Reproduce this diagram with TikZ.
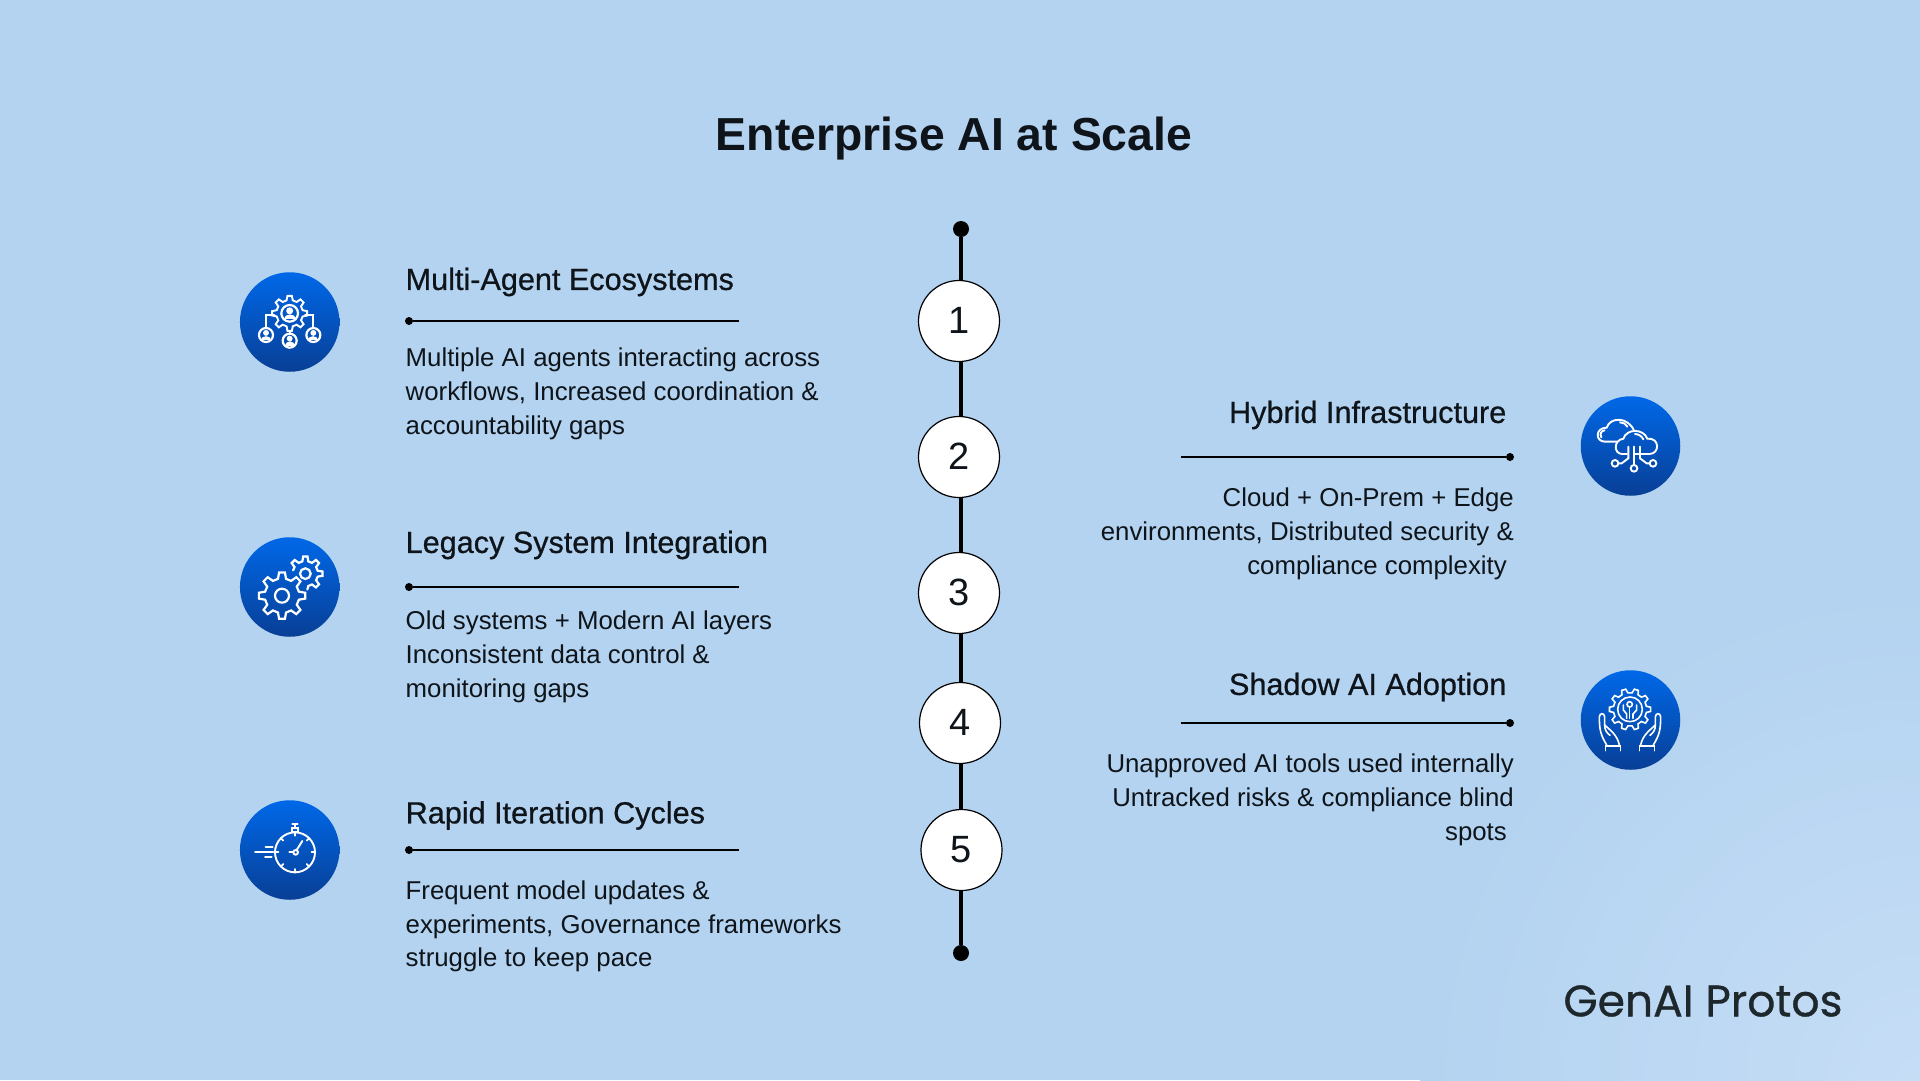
\documentclass[tikz,border=0pt]{standalone}
\usepackage{fontspec}
\setmainfont{Liberation Sans}
\newfontfamily\logofont[FakeBold=0.8]{Poppins}
\newfontfamily\headfont[FakeBold=0.7]{Liberation Sans}
\definecolor{bgbase}{HTML}{B3D3F0}
\definecolor{bgcorner}{HTML}{C6DDF6}
\definecolor{ink}{HTML}{0E1419}
\definecolor{logoink}{HTML}{1E282C}
\definecolor{discTop}{HTML}{0068E8}
\definecolor{discBot}{HTML}{083F96}
\tikzset{
  title/.style={font=\fontsize{46.3}{50}\selectfont\bfseries,text=ink},
  heading/.style={font=\headfont\fontsize{30.6}{34}\selectfont,text=ink},
  bodyL/.style={font=\fontsize{25.8}{33.7}\selectfont,text=ink,align=left,anchor=west,inner sep=0},
  bodyR/.style={font=\fontsize{25.8}{33.7}\selectfont,text=ink,align=right,anchor=east,inner sep=0},
  numdisc/.style={circle,draw=black,line width=1.2pt,fill=white,minimum size=81pt,inner sep=0,font=\fontsize{38}{40}\selectfont,text=ink},
  enddot/.style={circle,fill=black,minimum size=16pt,inner sep=0},
  ruledot/.style={circle,fill=black,minimum size=8pt,inner sep=0},
  spine/.style={line width=4pt,black},
  rulefine/.style={line width=2pt,black},
  disc/.style={circle,minimum size=99.5pt,inner sep=0,top color=discTop,bottom color=discBot,shading angle=0},
  ic/.style={draw=white,line width=1.9pt,line join=miter,line cap=round},
  zoomed/.style={shift={#1},x=0.33333pt,y=-0.33333pt},
}
\newcommand\gearat[5]{% centre, teeth, inner r, outer r, style
  \begin{scope}[shift={#1}]
    \pgfmathsetmacro\gst{360/#2}
    \draw[ic,#5] ({.30*\gst}:#3) \foreach \k in {1,...,#2}{
      -- ({(\k-.30)*\gst}:#3) -- ({(\k-.16)*\gst}:#4) -- ({(\k+.16)*\gst}:#4) -- ({(\k+.30)*\gst}:#3)} -- cycle;
  \end{scope}}
\newcommand\personat[2]{% centre, ring r
  \begin{scope}[shift={#1}]
    \draw[ic,line width=2.2pt] (0,0) circle (#2);
    \fill[white] (0,{-.30*#2}) circle ({.42*#2});
    \fill[white] ({-.72*#2},{.72*#2}) .. controls ({-.72*#2},{-.05*#2}) and ({.72*#2},{-.05*#2}) .. ({.72*#2},{.72*#2}) -- cycle;
  \end{scope}}
\newcommand\dg[1]{\raisebox{1pt}{#1}}
\begin{document}
\begin{tikzpicture}[x=1pt,y=-1pt]
\useasboundingbox (0,0) rectangle (1920,1080);
\begin{scope}
\clip (0,0) rectangle (1920,1080);
\fill[bgbase] (0,0) rectangle (1920,1080);
\shade[inner color=bgcorner,outer color=bgbase] (1920,1080) circle (500pt);
\end{scope}

\node[title] (title) at (954,139) {Enterprise AI at Scale};

% spine
\node[enddot] (top) at (961,229) {};
\node[enddot] (bot) at (961,953) {};
\node[numdisc] (n1) at (959,321) {\dg{1}};
\node[numdisc] (n2) at (959,457) {\dg{2}};
\node[numdisc] (n3) at (959,593) {\dg{3}};
\node[numdisc] (n4) at (960,723) {\dg{4}};
\node[numdisc] (n5) at (961.5,850) {\dg{5}};
\draw[spine] (top) -- (top|-n1.north);
\draw[spine] (n1.south -| top) -- (n2.north -| top);
\draw[spine] (n2.south -| top) -- (n3.north -| top);
\draw[spine] (n3.south -| top) -- (n4.north -| top);
\draw[spine] (n4.south -| top) -- (n5.north -| top);
\draw[spine] (n5.south -| top) -- (bot);

% left items
\node[heading,anchor=west,inner sep=0] (h1) at (405.5,282) {Multi-Agent Ecosystems};
\node[ruledot] (d1) at (409,321) {};
\coordinate (e1) at (738.5,321);
\draw[rulefine] (d1) -- (e1);
\node[bodyL] (b1) at (405.5,394) {Multiple AI agents interacting across\\workflows, Increased coordination \&\\accountability gaps};

\node[heading,anchor=west,inner sep=0] (h2) at (405.5,545) {Legacy System Integration};
\node[ruledot] (d2) at (409,587) {};
\coordinate (e2) at (738.5,587);
\draw[rulefine] (d2) -- (e2);
\node[bodyL] (b2) at (405.5,657) {Old systems + Modern AI layers\\Inconsistent data control \&\\monitoring gaps};

\node[heading,anchor=west,inner sep=0] (h3) at (405.5,815.5) {Rapid Iteration Cycles};
\node[ruledot] (d3) at (409,850) {};
\coordinate (e3) at (738.5,850);
\draw[rulefine] (d3) -- (e3);
\node[bodyL] (b3) at (405.5,926.5) {Frequent model updates \&\\experiments, Governance frameworks\\struggle to keep pace};

% right items
\node[heading,anchor=east,inner sep=0] (h4) at (1506.5,415) {Hybrid Infrastructure};
\node[ruledot] (d4) at (1510,457) {};
\coordinate (e4) at (1181,457);
\draw[rulefine] (d4) -- (e4);
\node[bodyR] (b4) at (1514,534) {Cloud + On-Prem + Edge\\environments, Distributed security \&\\compliance complexity\hspace*{7pt}};

\node[heading,anchor=east,inner sep=0] (h5) at (1506.5,687) {Shadow AI Adoption};
\node[ruledot] (d5) at (1510,723) {};
\coordinate (e5) at (1181,723);
\draw[rulefine] (d5) -- (e5);
\node[bodyR] (b5) at (1514,800) {Unapproved AI tools used internally\\Untracked risks \& compliance blind\\spots\hspace*{7pt}};

% icon discs
\node[disc] (i1) at (289.7,322) {};
\node[disc] (i2) at (289.7,587) {};
\node[disc] (i3) at (289.7,850) {};
\node[disc] (i4) at (1630.5,446) {};
\node[disc] (i5) at (1630.5,720) {};

% icon 1: agents
\begin{scope}[zoomed={(220pt,-250pt)}]
  \gearat{(209,190)}{8}{40}{53}{}
  \personat{(209,190)}{25}
  \personat{(138,255)}{21}
  \personat{(209,272)}{21}
  \personat{(280,255)}{21}
  \draw[ic] (138,234) -- (138,195) -- (163,195);
  \draw[ic] (280,234) -- (280,195) -- (255,195);
  \draw[ic] (209,243) -- (209,251);
\end{scope}

% icon 2: two gears
\begin{scope}[zoomed={(220pt,-520pt)}]
  \gearat{(186,227)}{8}{52}{70}{line width=2.2pt}
  \draw[ic,line width=2.2pt] (186,227) circle (21);
  \draw[ic,line width=2.2pt] (256,161) circle (16);
  \begin{scope}[shift={(256,161)}]
    \pgfmathsetmacro\gst{45}
    \draw[ic,line width=2.2pt] (195:38)
      \foreach \k in {5,...,9}{
      -- ({(\k-.30)*\gst}:38) -- ({(\k-.16)*\gst}:52) -- ({(\k+.16)*\gst}:52) -- ({(\k+.30)*\gst}:38)}
      -- ({(10-.30)*\gst}:38) -- ({(10-.16)*\gst}:48);
  \end{scope}
\end{scope}

% icon 3: stopwatch
\begin{scope}[zoomed={(220pt,-780pt)}]
  \draw[ic] (225,217) circle (60);
  \draw[ic] (216,157) rectangle (234,145);
  \draw[ic] (225,145) -- (225,134);
  \draw[ic] (217,133) -- (233,133);
  \draw[ic] (227,217) circle (7);
  \draw[ic] (230,210) -- (247,183);
  \draw[ic] (220,217) -- (208,217);
  \foreach \a in {0,45,90,135,180,225,270,315}
    \draw[ic] (225,217) ++(\a:60) -- ++(\a:-10);
  \draw[ic] (105,215) -- (160,215);
  \draw[ic] (137,200) -- (158,200);
  \draw[ic] (135,230) -- (155,230);
\end{scope}

% icon 4: clouds
\begin{scope}[zoomed={(1560pt,-380pt)}]
  \draw[ic] (172,185) -- (135,185) .. controls (105,185) and (105,143) .. (140,143)
    .. controls (150,110) and (205,110) .. (222,152);
  \draw[ic] (124,172) .. controls (118,160) and (125,152) .. (134,151);
  \draw[ic] (180,127) .. controls (190,127) and (198,132) .. (202,140);
  \draw[ic] (187,222) .. controls (160,222) and (160,180) .. (190,176)
    .. controls (200,145) and (250,145) .. (262,176)
    .. controls (300,172) and (300,222) .. (268,222) -- (244,222);
  \draw[ic] (187,222) -- (201,222);
  \draw[ic] (226,222) -- (236,222);
  \draw[ic] (250,178) .. controls (245,168) and (235,162) .. (225,162);
  \draw[ic] (205,200) -- (205,235) -- (185,250) -- (175,250);
  \draw[ic] (222,200) -- (222,255);
  \draw[ic] (240,200) -- (240,235) -- (260,250) -- (269,250);
  \draw[ic] (165,250) circle (10);
  \draw[ic] (222,265) circle (10);
  \draw[ic] (279,250) circle (10);
\end{scope}

% icon 5: gear in hands
\begin{scope}[zoomed={(1560pt,-650pt)}]
  \gearat{(210,178)}{10}{50}{62}{line width=1.6pt}
  \draw[ic,line width=1.6pt] (210,178) circle (37);
  \draw[ic,line width=1.6pt] (209,163) circle (8);
  \draw[ic,line width=1.6pt] (209,171) -- (209,205);
  \draw[ic,line width=1.6pt] (190,165) -- (190,180) -- (200,192) -- (200,205);
  \draw[ic,line width=1.6pt] (230,165) -- (230,180) -- (219,192) -- (219,205);
  \draw[ic,line width=1.6pt] (140,285) .. controls (122,255) and (118,240) .. (118,200)
     .. controls (120,188) and (132,188) .. (134,200) -- (134,225)
     .. controls (150,240) and (172,255) .. (178,285);
  \draw[ic,line width=1.6pt] (134,225) .. controls (134,240) and (140,248) .. (150,256);
  \draw[ic,line width=1.6pt] (137,302) -- (137,288) -- (181,288) -- (181,302);
  \draw[ic,line width=1.6pt] (280,285) .. controls (298,255) and (302,240) .. (302,200)
     .. controls (300,188) and (288,188) .. (286,200) -- (286,225)
     .. controls (270,240) and (248,255) .. (242,285);
  \draw[ic,line width=1.6pt] (286,225) .. controls (286,240) and (280,248) .. (270,256);
  \draw[ic,line width=1.6pt] (283,302) -- (283,288) -- (239,288) -- (239,302);
\end{scope}

\node[font=\logofont\fontsize{44}{48}\selectfont,text=logoink,inner sep=0] (logo) at (1703,1001) {GenAI Protos};
\end{tikzpicture}
\end{document}
